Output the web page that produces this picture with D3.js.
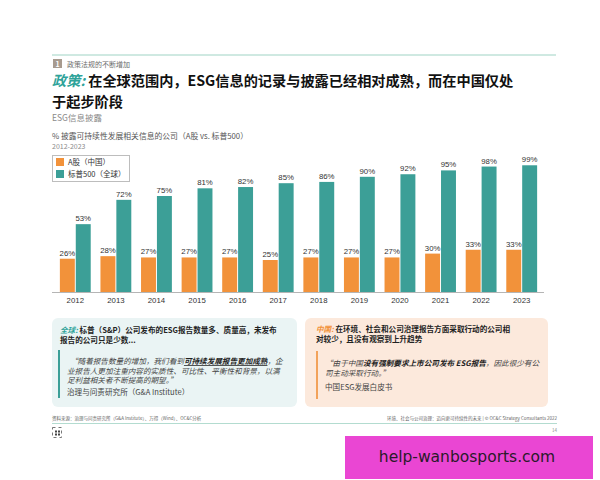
<!DOCTYPE html>
<html><head><meta charset="utf-8">
<script src="https://cdn.jsdelivr.net/npm/d3@7"></script>
<style>html,body{margin:0;padding:0;background:#fff;}svg{display:block;font-family:"Noto Sans CJK SC","Noto Sans",sans-serif;}</style>
</head><body>
<script>
const years = ['2012','2013','2014','2015','2016','2017','2018','2019','2020','2021','2022','2023'];
const aShare = [26,28,27,27,27,25,27,27,27,30,33,33];
const sp500 = [53,72,75,81,82,85,86,90,92,95,98,99];
const seriesNames = ['A股（中国）','标普500（全球）'];
const colors = ['#f2923a','#3c9f97'];

const W=600,H=480;
const svg=d3.select('body').append('svg').attr('width',W).attr('height',H);
svg.append('rect').attr('width',W).attr('height',H).attr('fill','#fff');

// header
svg.append('line').attr('x1',52).attr('x2',556).attr('y1',55).attr('y2',55).attr('stroke','#9fd3c4').attr('stroke-width',1);
svg.append('rect').attr('x',53).attr('y',59).attr('width',9).attr('height',9).attr('fill','#a89b8f');
svg.append('text').attr('x',57.5).attr('y',66.5).attr('text-anchor','middle').attr('font-size',7).attr('font-weight','bold').attr('fill','#fff').text('1');
svg.append('text').attr('x',67).attr('y',66.5).attr('font-size',7).attr('fill','#6b6b6b').text('政策法规的不断增加');

const t1=svg.append('text').attr('x',52).attr('y',86).attr('font-size',14.2).attr('font-weight','bold').attr('fill','#111');
t1.append('tspan').attr('fill','#2fa39a').attr('font-style','italic').text('政策:');
t1.append('tspan').text(' 在全球范围内，ESG信息的记录与披露已经相对成熟，而在中国仅处');
t1.append('tspan').attr('x',52).attr('dy',20.5).text('于起步阶段');

svg.append('text').attr('x',52).attr('y',121).attr('font-size',8.5).attr('fill','#8a8a8a').text('ESG信息披露');
svg.append('text').attr('x',52).attr('y',139).attr('font-size',7.8).attr('fill','#555').text('% 披露可持续性发展相关信息的公司（A股 vs. 标普500）');
svg.append('text').attr('x',52).attr('y',149).attr('font-size',7).attr('fill','#8a8a8a').text('2012-2023');

// chart
const x0=d3.scaleBand().domain(years).range([55,542]).paddingInner(0.24).paddingOuter(0.12);
const x1=d3.scaleBand().domain([0,1]).range([0,x0.bandwidth()]).paddingInner(0.06);
const y=d3.scaleLinear().domain([0,100]).range([292,164]);

const data=years.map((yr,i)=>({yr,vals:[aShare[i],sp500[i]]}));
const g=svg.append('g');
const grp=g.selectAll('g.grp').data(data).join('g').attr('transform',d=>`translate(${x0(d.yr)},0)`);
grp.selectAll('rect').data(d=>d.vals.map((v,k)=>({v,k}))).join('rect')
  .attr('x',d=>x1(d.k)).attr('width',x1.bandwidth())
  .attr('y',d=>y(d.v)).attr('height',d=>y(0)-y(d.v)).attr('fill',d=>colors[d.k]);
grp.selectAll('text').data(d=>d.vals.map((v,k)=>({v,k}))).join('text')
  .attr('x',d=>x1(d.k)+x1.bandwidth()/2).attr('y',d=>y(d.v)-3)
  .attr('text-anchor','middle').attr('font-size',7.8).attr('fill','#333')
  .attr('font-family','"Liberation Sans",Arial,sans-serif')
  .text(d=>d.v+'%');

const xAxis=svg.append('g').attr('transform','translate(0,292)')
  .call(d3.axisBottom(x0).tickSize(0).tickPadding(5));
xAxis.select('.domain').attr('stroke','#b5b5b5').attr('d','M52,0.5H544');
xAxis.selectAll('text').attr('font-size',7.8).attr('fill','#333').attr('font-family','"Liberation Sans",Arial,sans-serif');

// legend
svg.append('rect').attr('x',52.5).attr('y',155.5).attr('width',77).attr('height',26).attr('fill','#fff').attr('stroke','#bdbdbd');
seriesNames.forEach((n,i)=>{
  svg.append('rect').attr('x',56).attr('y',158+i*12).attr('width',8).attr('height',8).attr('fill',colors[i]);
  svg.append('text').attr('x',68).attr('y',165+i*12).attr('font-size',7.5).attr('fill','#333').text(n);
});

// bottom boxes
svg.append('rect').attr('x',52).attr('y',318).attr('width',245).attr('height',89).attr('rx',6).attr('fill','#eaf4f4');
svg.append('rect').attr('x',305).attr('y',318).attr('width',243).attr('height',89).attr('rx',6).attr('fill','#fce9dc');

const fs=7.6;
const lt=svg.append('text').attr('x',60).attr('y',333).attr('font-size',fs).attr('font-weight','bold').attr('fill','#222');
lt.append('tspan').attr('fill','#2fa39a').attr('font-style','italic').text('全球:');
lt.append('tspan').text(' 标普（S&P）公司发布的ESG报告数量多、质量高，未发布');
svg.append('text').attr('x',60).attr('y',343).attr('font-size',fs).attr('font-weight','bold').attr('fill','#222').text('报告的公司只是少数...');
svg.append('rect').attr('x',58).attr('y',350).attr('width',2).attr('height',48).attr('fill','#3c9f97');
const q1=svg.append('text').attr('x',70).attr('y',364).attr('font-size',fs).attr('font-style','italic').attr('fill','#444');
q1.append('tspan').text('“随着报告数量的增加，我们看到');
q1.append('tspan').attr('font-weight','bold').attr('fill','#222').attr('text-decoration','underline').text('可持续发展报告更加成熟');
q1.append('tspan').text('，企');
svg.append('text').attr('x',67).attr('y',373.5).attr('font-size',fs).attr('font-style','italic').attr('fill','#444').text('业报告人更加注重内容的实质性、可比性、平衡性和背景，以满');
svg.append('text').attr('x',67).attr('y',383).attr('font-size',fs).attr('font-style','italic').attr('fill','#444').text('足利益相关者不断提高的期望。”');
svg.append('text').attr('x',67).attr('y',395).attr('font-size',fs).attr('fill','#444').text('治理与问责研究所（G&A Institute）');

const rt=svg.append('text').attr('x',316).attr('y',332).attr('font-size',fs).attr('font-weight','bold').attr('fill','#222');
rt.append('tspan').attr('fill','#f2923a').attr('font-style','italic').text('中国:');
rt.append('tspan').text(' 在环境、社会和公司治理报告方面采取行动的公司相');
svg.append('text').attr('x',316).attr('y',342).attr('font-size',fs).attr('font-weight','bold').attr('fill','#222').text('对较少，且没有观察到上升趋势');
svg.append('rect').attr('x',316).attr('y',351).attr('width',2).attr('height',48).attr('fill','#f2a25a');
const q2=svg.append('text').attr('x',325).attr('y',366).attr('font-size',fs).attr('font-style','italic').attr('fill','#444');
q2.append('tspan').text('“由于中国');
q2.append('tspan').attr('font-weight','bold').attr('fill','#222').text('没有强制要求上市公司发布 ESG报告');
q2.append('tspan').text('，因此很少有公');
svg.append('text').attr('x',325).attr('y',375.5).attr('font-size',fs).attr('font-style','italic').attr('fill','#444').text('司主动采取行动。”');
svg.append('text').attr('x',325).attr('y',390).attr('font-size',fs).attr('fill','#444').text('中国ESG发展白皮书');

// footer
svg.append('text').attr('x',52).attr('y',420).attr('font-size',4.5).attr('fill','#666').text('资料来源：治理与问责研究所（G&A Institute）、万得（Wind）、OC&C分析');
svg.append('text').attr('x',557).attr('y',420).attr('text-anchor','end').attr('font-size',4.5).attr('fill','#666').text('环境、社会与公司治理：迈向更可持续性的未来 | © OC&C Strategy Consultants 2022');
svg.append('line').attr('x1',52).attr('x2',557).attr('y1',423.5).attr('y2',423.5).attr('stroke','#9fd3c4').attr('stroke-width',0.8);
svg.append('rect').attr('x',52.5).attr('y',427.5).attr('width',9).attr('height',10).attr('fill','none').attr('stroke','#555').attr('stroke-width',0.8).attr('stroke-dasharray','3,3');
[[55,430.5],[58,430.5],[55,433.5],[58,433.5]].forEach(p=>svg.append('rect').attr('x',p[0]).attr('y',p[1]).attr('width',2).attr('height',2).attr('fill','#444'));
svg.append('text').attr('x',557).attr('y',432).attr('text-anchor','end').attr('font-size',4.5).attr('fill','#888').text('14');

// watermark
svg.append('rect').attr('x',345).attr('y',436).attr('width',248).attr('height',43).attr('fill','#ea46d3');
svg.append('text').attr('x',467).attr('y',462).attr('text-anchor','middle').attr('font-size',15.5).attr('fill','#2a1a2a').attr('font-family','"DejaVu Sans",sans-serif').text('help-wanbosports.com');
</script>
</body></html>
